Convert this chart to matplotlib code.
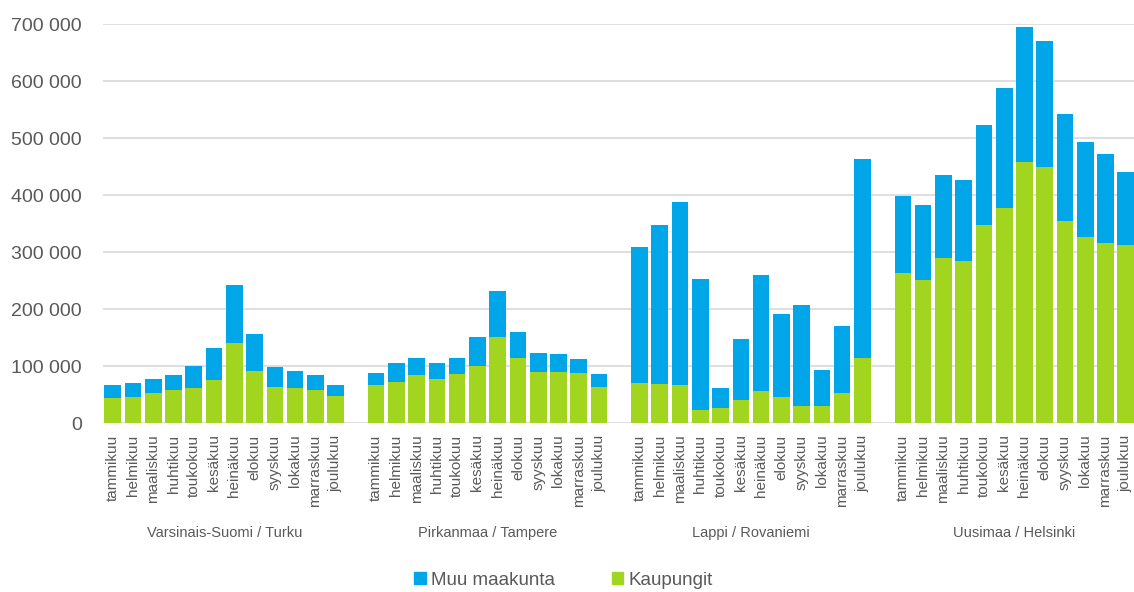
import numpy as np
import matplotlib.pyplot as plt
from matplotlib.patches import Patch
from matplotlib.ticker import FuncFormatter

plt.rcParams['font.family'] = ['Liberation Sans', 'DejaVu Sans']

kuukaudet = ['tammikuu', 'helmikuu', 'maaliskuu', 'huhtikuu', 'toukokuu', 'kesäkuu',
             'heinäkuu', 'elokuu', 'syyskuu', 'lokakuu', 'marraskuu', 'joulukuu']
alueet = ['Varsinais-Suomi / Turku', 'Pirkanmaa / Tampere',
          'Lappi / Rovaniemi', 'Uusimaa / Helsinki']

# kaupungit (vihreä) ja muu maakunta (sininen), yöpymiset
kaup_turku = [44000, 46000, 53000, 58000, 62000, 76000, 141000, 92000, 64000, 62000, 59000, 48000]
muu_turku = [24000, 24000, 24000, 27000, 38000, 56000, 102000, 65000, 34000, 30000, 25000, 19000]

kaup_tampere = [67000, 72000, 84000, 78000, 86000, 100000, 152000, 115000, 90000, 90000, 89000, 64000]
muu_tampere = [22000, 34000, 31000, 27000, 29000, 51000, 80000, 46000, 33000, 32000, 23000, 23000]

kaup_rovaniemi = [70000, 69000, 67000, 23000, 26000, 41000, 57000, 46000, 30000, 31000, 53000, 114000]
muu_rovaniemi = [240000, 278000, 321000, 230000, 36000, 106000, 203000, 146000, 177000, 63000, 117000, 350000]

kaup_helsinki = [263000, 252000, 290000, 285000, 348000, 377000, 458000, 449000, 355000, 326000, 317000, 313000]
muu_helsinki = [135000, 131000, 145000, 141000, 175000, 211000, 237000, 222000, 187000, 168000, 155000, 128000]

kaupungit = [kaup_turku, kaup_tampere, kaup_rovaniemi, kaup_helsinki]
muu = [muu_turku, muu_tampere, muu_rovaniemi, muu_helsinki]

sininen = '#00A6E8'
vihrea = '#A2D51F'
harmaa = '#595959'

fig = plt.figure(figsize=(11.34, 5.92), dpi=100)
ax = fig.add_axes([0.0905, 0.285, 0.9112, 0.674])

n = len(kuukaudet)
xt, xl = [], []
for g in range(len(alueet)):
    x = np.arange(n) + g * (n + 1)
    ax.bar(x, kaupungit[g], width=0.82, color=vihrea, zorder=2)
    ax.bar(x, muu[g], bottom=kaupungit[g], width=0.82, color=sininen, zorder=2)
    xt += list(x)
    xl += kuukaudet
    ax.text(x.mean(), -0.275, alueet[g], transform=ax.get_xaxis_transform(),
            ha='center', va='center', fontsize=10.5, color=harmaa)

ax.set_xlim(-0.5, 4 * (n + 1) - 1 - 0.5)
ax.set_ylim(0, 700000)
ax.set_yticks(np.arange(0, 700001, 100000))
ax.yaxis.set_major_formatter(FuncFormatter(lambda v, p: f'{int(v):,}'.replace(',', ' ')))
ax.set_xticks(xt)
ax.set_xticklabels(xl, rotation=90, fontsize=11, color=harmaa)
ax.tick_params(axis='y', labelsize=14, labelcolor=harmaa, length=0, pad=15)
ax.tick_params(axis='x', length=0, pad=8)
ax.grid(axis='y', color='#D9D9D9', linewidth=1.2, zorder=0)
for s in ax.spines.values():
    s.set_visible(False)

handles = [Patch(color=sininen, label='Muu maakunta'), Patch(color=vihrea, label='Kaupungit')]
fig.legend(handles=handles, loc='center', bbox_to_anchor=(0.497, 0.02), ncol=2,
           frameon=False, fontsize=13.5, handlelength=0.6, handleheight=0.6,
           handletextpad=0.3, columnspacing=3.0, labelcolor=harmaa)

fig.savefig('out.png')
